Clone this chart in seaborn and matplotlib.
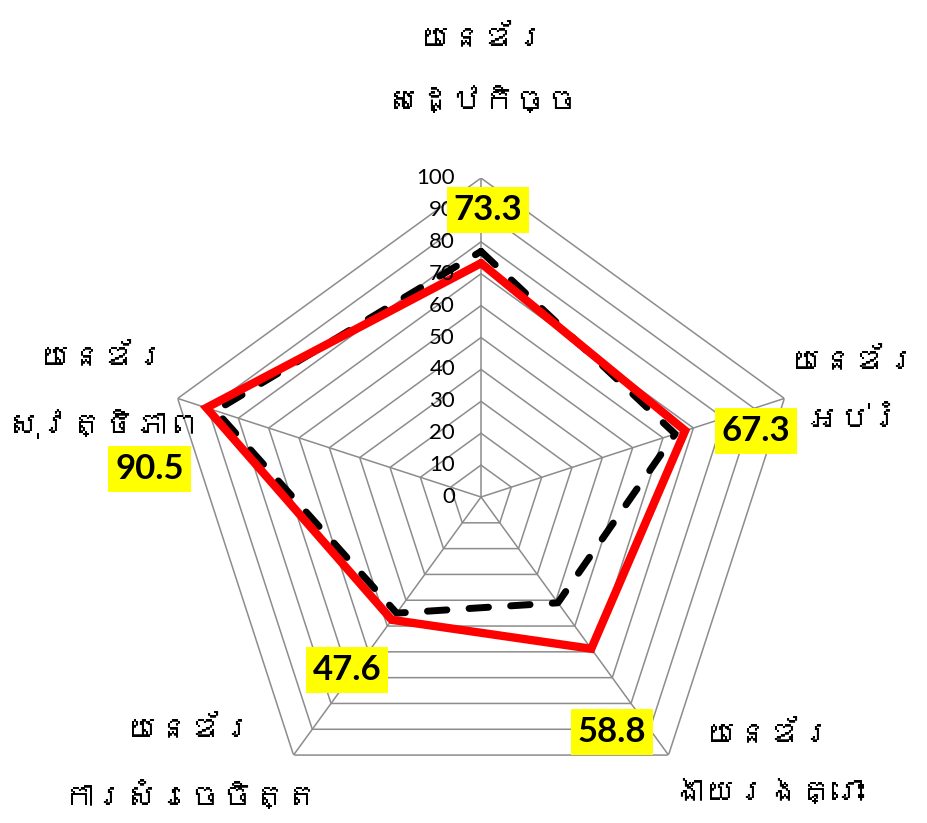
import numpy as np
import pandas as pd
import matplotlib
matplotlib.use('Agg')
import matplotlib.pyplot as plt
import seaborn as sns
from matplotlib import font_manager
from matplotlib.ft2font import FT2Font


# ==========================================
# DATA
# ==========================================

categories = [
    'យេនឌ័រ\nសេដ្ឋកិច្ច',
    'យេនឌ័រ\nអប់រំ',
    'យេនឌ័រ\nងាយរងគ្រោះ',
    'យេនឌ័រ\nការសំរេចចិត្ត',
    'យេនឌ័រ\nសុវត្ថិភាព',
]
score_red = [73.3, 67.3, 58.8, 47.6, 90.5]
score_black = [77.0, 64.0, 41.0, 45.0, 87.5]
radial_ticks = [0, 10, 20, 30, 40, 50, 60, 70, 80, 90, 100]


# ==========================================
# FONT WITH KHMER GLYPHS (if any)
# ==========================================

def find_khmer_font():
    for f in font_manager.fontManager.ttflist:
        try:
            cmap = FT2Font(f.fname).get_charmap()
        except Exception:
            continue
        if 0x1799 in cmap and 0x17C1 in cmap:
            return f.name
    return None


khmer = find_khmer_font()
label_family = [khmer, 'DejaVu Sans'] if khmer else ['DejaVu Sans']

sns.set_style('white')
plt.rcParams['font.family'] = ['Lato', 'DejaVu Sans']


# ==========================================
# RADAR
# ==========================================

n = len(categories)
theta = np.linspace(0, 2 * np.pi, n, endpoint=False)
theta_closed = np.append(theta, theta[0] + 2 * np.pi)

fig = plt.figure(figsize=(9.27, 8.23), dpi=100)
ax = fig.add_axes([0.1748, 0.0085, 0.6882, 0.7752], projection='polar')
ax.set_theta_zero_location('N')
ax.set_theta_direction(-1)
ax.set_ylim(0, 100)
ax.grid(False)
ax.spines['polar'].set_visible(False)
ax.set_xticks([])
ax.set_yticks([])
ax.patch.set_alpha(0)

grid_color = '#8c8c8c'
for r in radial_ticks[1:]:
    ax.plot(theta_closed, [r] * (n + 1), color=grid_color, lw=1.1, zorder=1)
for t in theta:
    ax.plot([t, t], [0, 100], color=grid_color, lw=1.1, zorder=1)

df_black = pd.DataFrame({'theta': theta_closed,
                         'value': score_black + [score_black[0]]})
df_red = pd.DataFrame({'theta': theta_closed,
                       'value': score_red + [score_red[0]]})

sns.lineplot(data=df_black, x='theta', y='value', sort=False, ax=ax,
             color='black', lw=5, zorder=3)
black_line = ax.lines[-1]
black_line.set_linestyle((0, (2.8, 3.2)))
black_line.set_dash_capstyle('round')

sns.lineplot(data=df_red, x='theta', y='value', sort=False, ax=ax,
             color='#ff0000', lw=6, zorder=4)
ax.lines[-1].set_solid_joinstyle('miter')

ax.set_xlabel('')
ax.set_ylabel('')

# radial tick labels along the top axis
for v in radial_ticks:
    ax.annotate(str(v), xy=(0, v), xytext=(-26, 0),
                textcoords='offset pixels', ha='right', va='center',
                fontsize=16, color='black', zorder=5)

# data labels
value_offsets = [(7, 53), (71, 0), (21, -83), (-45, -50), (-57, -61)]
for t, v, off in zip(theta, score_red, value_offsets):
    ax.annotate(f'{v:.1f}', xy=(t, v), xytext=off,
                textcoords='offset pixels', ha='center', va='center',
                fontsize=25, fontweight='bold', color='black', zorder=6,
                bbox=dict(boxstyle='square,pad=0.2', fc='#ffff00', ec='none'))

# category labels
cat_offsets = [(2, 108), (70, 8), (100, -8), (-104, -8), (-75, 7)]
for t, c, off in zip(theta, categories, cat_offsets):
    ax.annotate(c, xy=(t, 100), xytext=off,
                textcoords='offset pixels', ha='center', va='center',
                fontsize=23, linespacing=2.5, family=label_family,
                color='black', zorder=5, annotation_clip=False)

fig.savefig('out.png', dpi=100)
